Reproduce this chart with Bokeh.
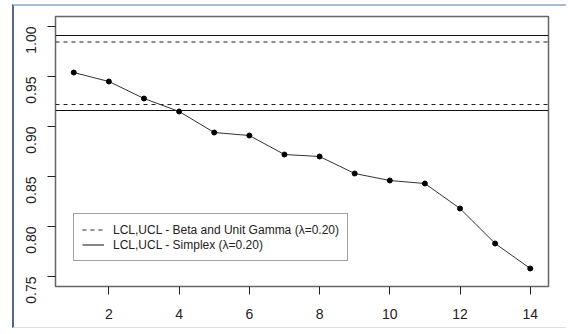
from bokeh.plotting import figure
from bokeh.models import Legend, LegendItem, Range1d, FixedTicker, ColumnDataSource
from bokeh.embed import file_html
from bokeh.resources import INLINE

# data
sample = list(range(1, 15))
statistic = [0.954, 0.945, 0.928, 0.915, 0.894, 0.891, 0.872, 0.870,
             0.853, 0.846, 0.843, 0.818, 0.783, 0.758]
beta_limits = [0.922, 0.9845]      # LCL, UCL - Beta and Unit Gamma
simplex_limits = [0.916, 0.991]    # LCL, UCL - Simplex
x_ticks = [2, 4, 6, 8, 10, 12, 14]
y_ticks = [0.75, 0.80, 0.85, 0.90, 0.95, 1.00]
y_tick_labels = {0.75: "0.75", 0.80: "0.80", 0.85: "0.85", 0.90: "0.90", 0.95: "0.95", 1.00: "1.00"}
legend_labels = ["LCL,UCL - Beta and Unit Gamma (\u03bb=0.20)",
                 "LCL,UCL - Simplex (\u03bb=0.20)"]

FONT = "Liberation Sans"
X_LO, X_HI = 0.48, 14.52

p = figure(width=554, height=324, output_backend="svg", toolbar_location=None,
           x_range=Range1d(X_LO, X_HI), y_range=Range1d(0.74, 1.01),
           min_border_left=41, min_border_right=20, min_border_top=10, min_border_bottom=44)
p.styles = {"margin-left": "12px", "margin-top": "4px",
            "border-left": "2px solid #56688a", "border-top": "2px solid #a9bcd6",
            "border-bottom": "1px solid #e0e0e0"}

p.xgrid.visible = False
p.ygrid.visible = False
p.outline_line_color = "#666666"
p.outline_line_width = 1.5
p.background_fill_color = "white"
p.border_fill_color = "white"

for ax in (p.xaxis[0], p.yaxis[0]):
    ax.axis_line_color = None
    ax.major_tick_in = 0
    ax.major_tick_out = 8
    ax.major_tick_line_color = "#222222"
    ax.minor_tick_line_color = None
    ax.major_label_text_font = FONT
    ax.major_label_text_font_size = "14px"
    ax.major_label_text_color = "#222222"

p.xaxis[0].major_label_standoff = 14
p.yaxis[0].major_label_standoff = 17
p.xaxis[0].ticker = FixedTicker(ticks=x_ticks)
p.yaxis[0].ticker = FixedTicker(ticks=y_ticks)
p.yaxis[0].major_label_overrides = y_tick_labels
p.yaxis[0].major_label_orientation = 1.5707963

# control limits, drawn across the full x range
beta_src = ColumnDataSource(dict(xs=[[X_LO, X_HI] for _ in beta_limits],
                                 ys=[[v, v] for v in beta_limits]))
simplex_src = ColumnDataSource(dict(xs=[[X_LO, X_HI] for _ in simplex_limits],
                                    ys=[[v, v] for v in simplex_limits]))
r_dash = p.multi_line("xs", "ys", source=beta_src, line_color="#222222",
                      line_width=1, line_dash="4 4")
r_solid = p.multi_line("xs", "ys", source=simplex_src, line_color="#111111",
                       line_width=1)

# statistic series
p.line(sample, statistic, line_color="#333333", line_width=1)
p.scatter(sample, statistic, size=5, fill_color="black", line_color="black")

legend = Legend(items=[LegendItem(label=legend_labels[0], renderers=[r_dash]),
                       LegendItem(label=legend_labels[1], renderers=[r_solid])],
                location=(18, 25), orientation="vertical",
                label_text_font=FONT, label_text_font_size="12px",
                label_text_color="#222222",
                label_height=15, glyph_height=15, glyph_width=22,
                label_standoff=9, spacing=0, padding=8, margin=0,
                border_line_color="#444444", border_line_width=1.5,
                background_fill_alpha=1.0)
p.add_layout(legend, "center")

open("out.html", "w").write(file_html(p, INLINE))
